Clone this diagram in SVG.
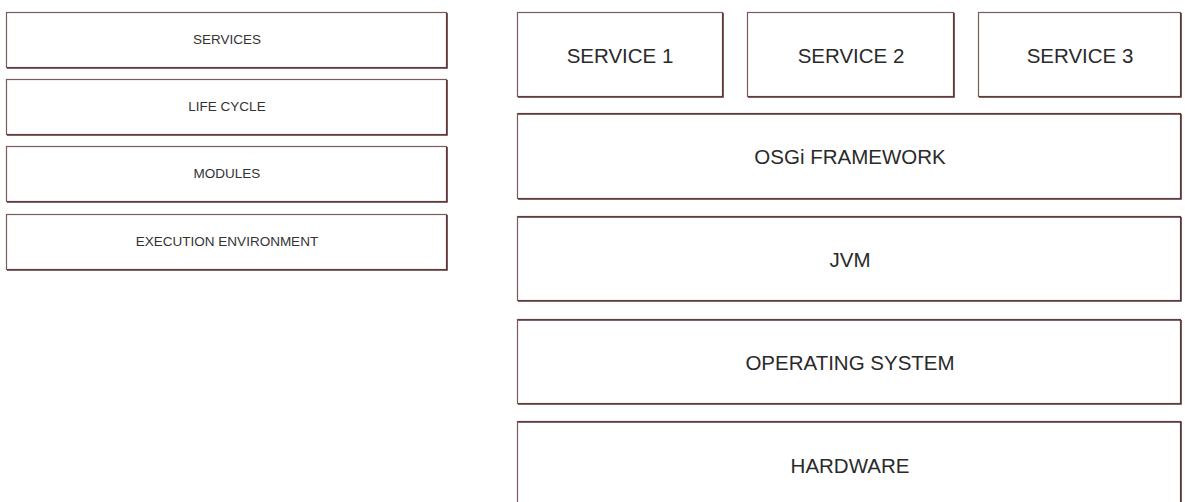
<svg xmlns="http://www.w3.org/2000/svg" width="1185" height="502" viewBox="0 0 1185 502">
<style>
.box{fill:#ffffff;stroke:#7a5a5a;stroke-width:1.2}
.sh{fill:none;stroke:#5a3434;stroke-width:1.6}
.s{font-family:"Liberation Sans",Arial,sans-serif;font-size:13.5px;fill:#333;text-anchor:middle;dominant-baseline:central}
.l{font-family:"Liberation Sans",Arial,sans-serif;font-size:20.5px;fill:#2a2a2a;text-anchor:middle;dominant-baseline:central}
</style>
<rect width="1185" height="502" fill="#ffffff"/>
<g id="services"><rect class="box" x="6.5" y="12.5" width="440" height="55"/><path class="sh" d="M7 68H447V13"/><text class="s" x="227" y="39.5">SERVICES</text></g>
<g id="lifecycle"><rect class="box" x="6.5" y="79.5" width="440" height="55"/><path class="sh" d="M7 135H447V80"/><text class="s" x="227" y="106.5">LIFE CYCLE</text></g>
<g id="modules"><rect class="box" x="6.5" y="146.5" width="440" height="55"/><path class="sh" d="M7 202H447V147"/><text class="s" x="227" y="173.5">MODULES</text></g>
<g id="execenv"><rect class="box" x="6.5" y="214.5" width="440" height="55"/><path class="sh" d="M7 270H447V215"/><text class="s" x="227" y="241.5">EXECUTION ENVIRONMENT</text></g>
<g id="service1"><rect class="box" x="517.5" y="12.5" width="205" height="84"/><path class="sh" d="M518 97H723V13"/><text class="l" x="620" y="55">SERVICE 1</text></g>
<g id="service2"><rect class="box" x="747.5" y="12.5" width="206" height="84"/><path class="sh" d="M748 97H954V13"/><text class="l" x="851" y="55">SERVICE 2</text></g>
<g id="service3"><rect class="box" x="978.5" y="12.5" width="202" height="84"/><path class="sh" d="M979 97H1181V13"/><text class="l" x="1080" y="55">SERVICE 3</text></g>
<g id="osgi"><rect class="box" x="517.5" y="113.5" width="663" height="85"/><path class="sh" d="M518 114H1181M518 199H1181V114"/><text class="l" x="850" y="156">OSGi FRAMEWORK</text></g>
<g id="jvm"><rect class="box" x="517.5" y="216.5" width="663" height="84"/><path class="sh" d="M518 217H1181M518 301H1181V217"/><text class="l" x="850" y="259">JVM</text></g>
<g id="os"><rect class="box" x="517.5" y="319.5" width="663" height="84"/><path class="sh" d="M518 320H1181M518 404H1181V320"/><text class="l" x="850" y="362">OPERATING SYSTEM</text></g>
<g id="hardware"><rect class="box" x="517.5" y="421.5" width="663" height="90"/><path class="sh" d="M518 422H1181V503"/><text class="l" x="850" y="465">HARDWARE</text></g>
<g id="connectors"></g>
</svg>
